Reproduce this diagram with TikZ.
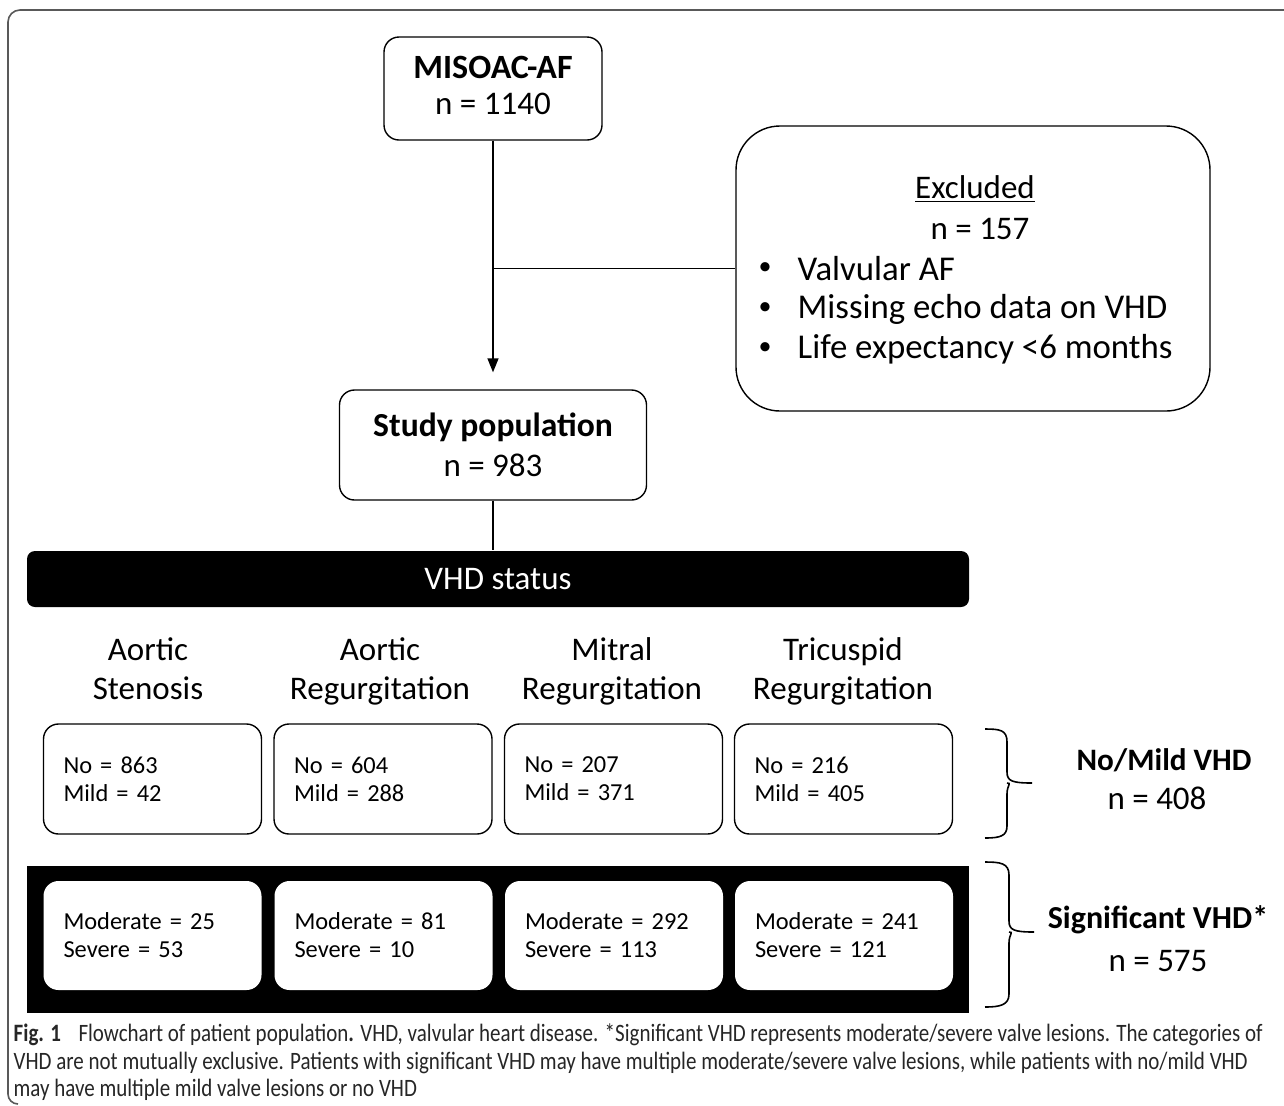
\documentclass[tikz,border=0pt]{standalone}
\usepackage{fontspec}
\setmainfont{Carlito}
\newfontfamily\capfont{Carlito}[FakeStretch=0.84]
\usetikzlibrary{arrows.meta}
\begin{document}
\begin{tikzpicture}[x=0.5pt,y=-0.5pt,
  line width=0.7pt,
  wbox/.style={draw=black, fill=white, rounded corners=7.5pt, inner sep=0pt, align=center},
  valbox/.style={fill=white, rounded corners=7.5pt, inner xsep=10pt, inner ysep=0pt, text width=89pt, align=left, minimum height=55pt, font=\fontsize{12.2}{14}\selectfont},
  big/.style={font=\fontsize{16.5}{19.5}\selectfont},
  itemtext/.style={font=\fontsize{17.4}{20}\selectfont, anchor=west, inner xsep=0pt},
  dotmark/.style={font=\fontsize{13}{15}\selectfont},
  hdr/.style={font=\fontsize{16.5}{19.5}\selectfont, align=center, inner sep=0pt},
  captext/.style={anchor=base west, inner sep=0pt, font=\capfont\fontsize{12.5}{14}\selectfont, text=black!85},
  arr/.style={-{Triangle[length=7pt,width=5.5pt]}}
]
\useasboundingbox (0,0) rectangle (1284,1105);
\fill[white] (0,0) rectangle (1284,1105);
% outer frame
\draw[gray!70!black, line width=0.8pt] (1284,10) -- (20,10) arc[start angle=90, end angle=180, radius=6pt] -- (8,1094) arc[start angle=180, end angle=270, radius=5pt];

% top box
\node[wbox, minimum width=109pt, minimum height=51.5pt] (top) at (493,88.5) {};
\node[font=\fontsize{17}{20}\selectfont\bfseries] (topt) at (493,67) {MISOAC-AF};
\node[big] (topn) at (493,104) {n = 1140};

% excluded box
\node[wbox, minimum width=237pt, minimum height=142.5pt, rounded corners=22pt] (excl) at (973,268.5) {};
\node[big] (ex1) at (975,189) {\underline{Excluded}};
\node[big] (ex2) at (980,229) {n = 157};
\node[dotmark] (b1) at (765,269) {\textbullet};
\node[dotmark] (b2) at (765,309) {\textbullet};
\node[dotmark] (b3) at (765,349) {\textbullet};
\node[itemtext] (e1) at (797,269) {Valvular AF};
\node[itemtext] (e2) at (797,309) {Missing echo data on VHD};
\node[itemtext] (e3) at (797,349) {Life expectancy <6 months};

% study population
\node[wbox, minimum width=153.5pt, minimum height=55pt] (study) at (493,445) {};
\node[font=\fontsize{16.8}{20}\selectfont\bfseries] (st1) at (493,427) {Study population};
\node[big] (st2) at (493,465) {n = 983};

% connectors
\coordinate (j) at (top.south |- excl.west);
\draw[arr] (top.south) -- ([yshift=8.5pt]study.north);
\draw (j) -- (excl.west);

% VHD status bar
\node[fill=black, rounded corners=4pt, minimum width=471pt, minimum height=28pt, inner sep=0pt, text=white, font=\fontsize{16.5}{19.5}\selectfont] (vhd) at (498,579) {VHD status};
\draw (study.south) -- (study.south |- vhd.north);

% headers
\node[hdr] (h1) at (148,671) {Aortic\\Stenosis\vphantom{g}};
\node[hdr] (h2) at (380,671) {Aortic\\Regurgitation};
\node[hdr] (h3) at (612,671) {Mitral\\Regurgitation};
\node[hdr] (h4) at (843,671) {Tricuspid\\Regurgitation};

% row 1
\node[valbox, draw=black] (m1) at (152.5,779) {No = 863\\Mild = 42};
\node[valbox, draw=black] (m2) at (383,779) {No = 604\\Mild = 288};
\node[valbox, draw=black] (m3) at (613.5,779) {No = 207\\Mild = 371};
\node[valbox, draw=black] (m4) at (843.5,779) {No = 216\\Mild = 405};

% significant black panel
\node[fill=black, minimum width=471pt, minimum height=73.5pt, inner sep=0pt] (sig) at (498,939.5) {};
\node[valbox, minimum height=54.5pt] (s1) at (152.5,935.5) {Moderate = 25\\Severe = 53};
\node[valbox, minimum height=54.5pt] (s2) at (383.5,935.5) {Moderate = 81\\Severe = 10};
\node[valbox, minimum height=54.5pt] (s3) at (614,935.5) {Moderate = 292\\Severe = 113};
\node[valbox, minimum height=54.5pt] (s4) at (844,935.5) {Moderate = 241\\Severe = 121};

% braces
\draw[line width=0.8pt] (985,729) .. controls (1000,729) and (1007,730) .. (1007,742) -- (1007,772)
  .. controls (1007,781) and (1012,783) .. (1032,783)
  (1007,783) .. controls (1012,783) and (1007,785) .. (1007,794) -- (1007,826)
  .. controls (1007,836) and (1000,838) .. (985,838);
\draw[line width=0.8pt] (985,862) .. controls (1000,862) and (1009,863) .. (1009,875) -- (1009,921)
  .. controls (1009,930) and (1014,932) .. (1034,932)
  (1009,932) .. controls (1014,932) and (1009,934) .. (1009,943) -- (1009,994)
  .. controls (1009,1005) and (1000,1007) .. (985,1007);

% right labels
\node[font=\fontsize{15.6}{19}\selectfont\bfseries] (nm1) at (1164,760) {No/Mild VHD};
\node[big] (nm2) at (1157,798) {n = 408};
\node[font=\fontsize{16}{19}\selectfont\bfseries] (sv1) at (1158,920) {Significant VHD*};
\node[big] (sv2) at (1158,961) {n = 575};

% caption
\node[captext] (c1) at (13,1041) {\textbf{Fig. 1}\hspace{0.7em}Flowchart of patient population\textbf{.} VHD, valvular heart disease. *Significant VHD represents moderate/severe valve lesions. The categories of};
\node[captext] (c2) at (13,1069) {VHD are not mutually exclusive. Patients with significant VHD may have multiple moderate/severe valve lesions, while patients with no/mild VHD};
\node[captext] (c3) at (13,1096) {may have multiple mild valve lesions or no VHD};
\end{tikzpicture}
\end{document}
